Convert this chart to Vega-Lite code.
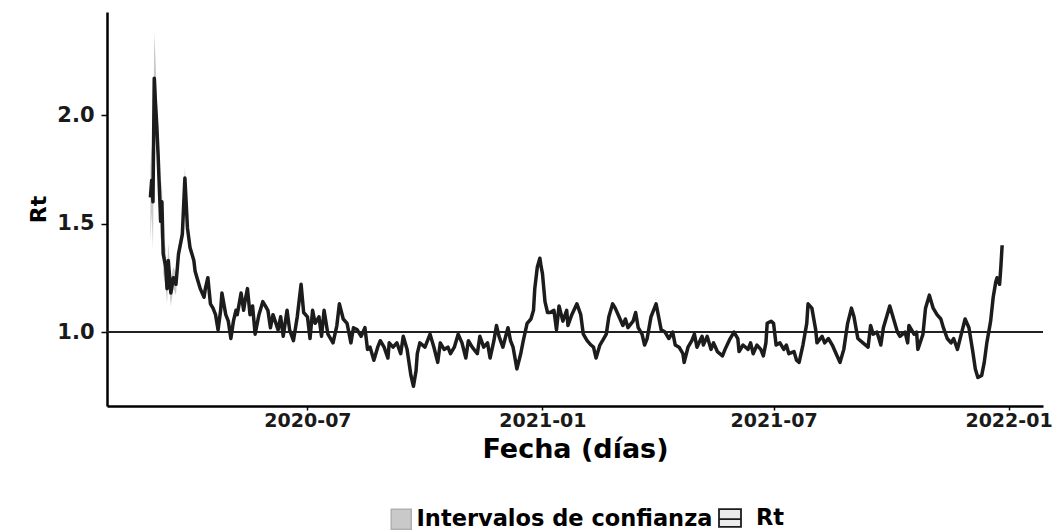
{
  "$schema": "https://vega.github.io/schema/vega-lite/v6.json",
  "width": 936,
  "height": 394,
  "autosize": {"type": "none"},
  "padding": {"left": 107, "top": 12, "right": 20, "bottom": 126},
  "background": "white",
  "config": {
    "view": {"stroke": null},
    "font": "DejaVu Sans",
    "axis": {
      "domainColor": "black", "domainWidth": 2.5, "tickColor": "black", "tickWidth": 1.5, "tickSize": 6,
      "labelColor": "#1a1a1a", "labelFont": "DejaVu Sans", "labelFontSize": 19, "labelFontWeight": "bold",
      "titleFont": "DejaVu Sans", "titleFontWeight": "bold", "titleColor": "black", "grid": false
    },
    "legend": {
      "orient": "none", "direction": "horizontal", "title": null,
      "symbolSize": 400, "symbolStrokeWidth": 1.5,
      "labelFont": "DejaVu Sans", "labelFontSize": 22.5, "labelFontWeight": "bold", "labelColor": "black",
      "labelOffset": 4, "labelLimit": 0
    }
  },
  "data": {"values": [
    {"fecha": "2020-02-29", "rt": 1.62, "lo": 1.42, "hi": 1.76},
    {"fecha": "2020-03-01", "rt": 1.70, "lo": 1.55, "hi": 1.86},
    {"fecha": "2020-03-02", "rt": 1.60, "lo": 1.38, "hi": 1.74},
    {"fecha": "2020-03-03", "rt": 2.17, "lo": 1.98, "hi": 2.38},
    {"fecha": "2020-03-04", "rt": 2.05, "lo": 1.90, "hi": 2.26},
    {"fecha": "2020-03-05", "rt": 1.95, "lo": 1.82, "hi": 2.10},
    {"fecha": "2020-03-06", "rt": 1.82, "lo": 1.72, "hi": 1.95},
    {"fecha": "2020-03-08", "rt": 1.51, "lo": 1.42, "hi": 1.62},
    {"fecha": "2020-03-09", "rt": 1.60, "lo": 1.50, "hi": 1.70},
    {"fecha": "2020-03-10", "rt": 1.36, "lo": 1.27, "hi": 1.45},
    {"fecha": "2020-03-12", "rt": 1.30, "lo": 1.21, "hi": 1.38},
    {"fecha": "2020-03-13", "rt": 1.20, "lo": 1.13, "hi": 1.27},
    {"fecha": "2020-03-14", "rt": 1.33, "lo": 1.25, "hi": 1.41},
    {"fecha": "2020-03-16", "rt": 1.18, "lo": 1.12, "hi": 1.24},
    {"fecha": "2020-03-18", "rt": 1.25, "lo": 1.20, "hi": 1.30},
    {"fecha": "2020-03-20", "rt": 1.22, "lo": 1.17, "hi": 1.27},
    {"fecha": "2020-03-22", "rt": 1.36, "lo": 1.32, "hi": 1.40},
    {"fecha": "2020-03-25", "rt": 1.45, "lo": 1.41, "hi": 1.49},
    {"fecha": "2020-03-27", "rt": 1.71, "lo": 1.66, "hi": 1.76},
    {"fecha": "2020-03-29", "rt": 1.48, "lo": 1.45, "hi": 1.52},
    {"fecha": "2020-03-31", "rt": 1.39, "lo": 1.36, "hi": 1.42},
    {"fecha": "2020-04-03", "rt": 1.33},
    {"fecha": "2020-04-04", "rt": 1.28},
    {"fecha": "2020-04-06", "rt": 1.24},
    {"fecha": "2020-04-08", "rt": 1.20},
    {"fecha": "2020-04-11", "rt": 1.16},
    {"fecha": "2020-04-12", "rt": 1.20},
    {"fecha": "2020-04-14", "rt": 1.25},
    {"fecha": "2020-04-16", "rt": 1.13},
    {"fecha": "2020-04-18", "rt": 1.11},
    {"fecha": "2020-04-20", "rt": 1.08},
    {"fecha": "2020-04-22", "rt": 1.01},
    {"fecha": "2020-04-24", "rt": 1.10},
    {"fecha": "2020-04-25", "rt": 1.18},
    {"fecha": "2020-04-28", "rt": 1.08},
    {"fecha": "2020-04-30", "rt": 1.05},
    {"fecha": "2020-05-02", "rt": 0.97},
    {"fecha": "2020-05-04", "rt": 1.05},
    {"fecha": "2020-05-06", "rt": 1.10},
    {"fecha": "2020-05-07", "rt": 1.08},
    {"fecha": "2020-05-10", "rt": 1.18},
    {"fecha": "2020-05-12", "rt": 1.10},
    {"fecha": "2020-05-13", "rt": 1.14},
    {"fecha": "2020-05-15", "rt": 1.20},
    {"fecha": "2020-05-17", "rt": 1.08},
    {"fecha": "2020-05-19", "rt": 1.12},
    {"fecha": "2020-05-21", "rt": 0.99},
    {"fecha": "2020-05-24", "rt": 1.08},
    {"fecha": "2020-05-27", "rt": 1.14},
    {"fecha": "2020-05-29", "rt": 1.12},
    {"fecha": "2020-05-31", "rt": 1.10},
    {"fecha": "2020-06-02", "rt": 1.02},
    {"fecha": "2020-06-04", "rt": 1.08},
    {"fecha": "2020-06-08", "rt": 1.01},
    {"fecha": "2020-06-10", "rt": 1.07},
    {"fecha": "2020-06-12", "rt": 0.98},
    {"fecha": "2020-06-15", "rt": 1.10},
    {"fecha": "2020-06-17", "rt": 1.01},
    {"fecha": "2020-06-20", "rt": 0.96},
    {"fecha": "2020-06-23", "rt": 1.07},
    {"fecha": "2020-06-26", "rt": 1.22},
    {"fecha": "2020-06-28", "rt": 1.09},
    {"fecha": "2020-07-01", "rt": 1.07},
    {"fecha": "2020-07-03", "rt": 0.97},
    {"fecha": "2020-07-05", "rt": 1.10},
    {"fecha": "2020-07-07", "rt": 1.04},
    {"fecha": "2020-07-10", "rt": 1.07},
    {"fecha": "2020-07-12", "rt": 0.98},
    {"fecha": "2020-07-14", "rt": 1.10},
    {"fecha": "2020-07-17", "rt": 0.99},
    {"fecha": "2020-07-21", "rt": 0.95},
    {"fecha": "2020-07-24", "rt": 1.03},
    {"fecha": "2020-07-26", "rt": 1.13},
    {"fecha": "2020-07-29", "rt": 1.06},
    {"fecha": "2020-08-01", "rt": 1.04},
    {"fecha": "2020-08-04", "rt": 0.95},
    {"fecha": "2020-08-06", "rt": 1.02},
    {"fecha": "2020-08-09", "rt": 1.01},
    {"fecha": "2020-08-12", "rt": 0.98},
    {"fecha": "2020-08-15", "rt": 1.02},
    {"fecha": "2020-08-17", "rt": 0.92},
    {"fecha": "2020-08-19", "rt": 0.93},
    {"fecha": "2020-08-22", "rt": 0.87},
    {"fecha": "2020-08-25", "rt": 0.93},
    {"fecha": "2020-08-27", "rt": 0.96},
    {"fecha": "2020-08-30", "rt": 0.93},
    {"fecha": "2020-09-02", "rt": 0.88},
    {"fecha": "2020-09-03", "rt": 0.95},
    {"fecha": "2020-09-06", "rt": 0.93},
    {"fecha": "2020-09-09", "rt": 0.95},
    {"fecha": "2020-09-12", "rt": 0.90},
    {"fecha": "2020-09-14", "rt": 0.98},
    {"fecha": "2020-09-17", "rt": 0.92},
    {"fecha": "2020-09-20", "rt": 0.80},
    {"fecha": "2020-09-22", "rt": 0.75},
    {"fecha": "2020-09-24", "rt": 0.82},
    {"fecha": "2020-09-25", "rt": 0.90},
    {"fecha": "2020-09-27", "rt": 0.95},
    {"fecha": "2020-10-01", "rt": 0.93},
    {"fecha": "2020-10-05", "rt": 0.99},
    {"fecha": "2020-10-08", "rt": 0.93},
    {"fecha": "2020-10-11", "rt": 0.86},
    {"fecha": "2020-10-13", "rt": 0.95},
    {"fecha": "2020-10-16", "rt": 0.92},
    {"fecha": "2020-10-19", "rt": 0.93},
    {"fecha": "2020-10-21", "rt": 0.90},
    {"fecha": "2020-10-24", "rt": 0.93},
    {"fecha": "2020-10-27", "rt": 0.99},
    {"fecha": "2020-10-30", "rt": 0.95},
    {"fecha": "2020-11-02", "rt": 0.88},
    {"fecha": "2020-11-04", "rt": 0.96},
    {"fecha": "2020-11-07", "rt": 0.93},
    {"fecha": "2020-11-11", "rt": 0.90},
    {"fecha": "2020-11-13", "rt": 0.98},
    {"fecha": "2020-11-16", "rt": 0.93},
    {"fecha": "2020-11-19", "rt": 0.95},
    {"fecha": "2020-11-21", "rt": 0.88},
    {"fecha": "2020-11-24", "rt": 0.96},
    {"fecha": "2020-11-26", "rt": 1.03},
    {"fecha": "2020-11-28", "rt": 0.98},
    {"fecha": "2020-12-01", "rt": 0.93},
    {"fecha": "2020-12-05", "rt": 1.02},
    {"fecha": "2020-12-07", "rt": 0.96},
    {"fecha": "2020-12-09", "rt": 0.93},
    {"fecha": "2020-12-12", "rt": 0.83},
    {"fecha": "2020-12-15", "rt": 0.90},
    {"fecha": "2020-12-17", "rt": 0.96},
    {"fecha": "2020-12-20", "rt": 1.04},
    {"fecha": "2020-12-23", "rt": 1.06},
    {"fecha": "2020-12-25", "rt": 1.10},
    {"fecha": "2020-12-26", "rt": 1.20},
    {"fecha": "2020-12-28", "rt": 1.30},
    {"fecha": "2020-12-30", "rt": 1.34},
    {"fecha": "2020-12-31", "rt": 1.30},
    {"fecha": "2021-01-01", "rt": 1.27},
    {"fecha": "2021-01-03", "rt": 1.14},
    {"fecha": "2021-01-05", "rt": 1.09},
    {"fecha": "2021-01-07", "rt": 1.09},
    {"fecha": "2021-01-10", "rt": 1.10},
    {"fecha": "2021-01-12", "rt": 1.01},
    {"fecha": "2021-01-14", "rt": 1.12},
    {"fecha": "2021-01-17", "rt": 1.05},
    {"fecha": "2021-01-20", "rt": 1.10},
    {"fecha": "2021-01-21", "rt": 1.03},
    {"fecha": "2021-01-24", "rt": 1.08},
    {"fecha": "2021-01-28", "rt": 1.13},
    {"fecha": "2021-01-31", "rt": 1.08},
    {"fecha": "2021-02-02", "rt": 0.99},
    {"fecha": "2021-02-05", "rt": 0.96},
    {"fecha": "2021-02-08", "rt": 0.94},
    {"fecha": "2021-02-10", "rt": 0.93},
    {"fecha": "2021-02-12", "rt": 0.88},
    {"fecha": "2021-02-15", "rt": 0.94},
    {"fecha": "2021-02-18", "rt": 0.97},
    {"fecha": "2021-02-20", "rt": 0.99},
    {"fecha": "2021-02-22", "rt": 1.07},
    {"fecha": "2021-02-25", "rt": 1.13},
    {"fecha": "2021-02-27", "rt": 1.11},
    {"fecha": "2021-03-02", "rt": 1.07},
    {"fecha": "2021-03-05", "rt": 1.03},
    {"fecha": "2021-03-07", "rt": 1.06},
    {"fecha": "2021-03-09", "rt": 1.02},
    {"fecha": "2021-03-13", "rt": 1.05},
    {"fecha": "2021-03-15", "rt": 1.09},
    {"fecha": "2021-03-17", "rt": 1.02},
    {"fecha": "2021-03-20", "rt": 0.99},
    {"fecha": "2021-03-22", "rt": 0.94},
    {"fecha": "2021-03-24", "rt": 0.97},
    {"fecha": "2021-03-27", "rt": 1.07},
    {"fecha": "2021-03-31", "rt": 1.13},
    {"fecha": "2021-04-02", "rt": 1.07},
    {"fecha": "2021-04-04", "rt": 1.01},
    {"fecha": "2021-04-07", "rt": 1.00},
    {"fecha": "2021-04-10", "rt": 0.97},
    {"fecha": "2021-04-13", "rt": 1.00},
    {"fecha": "2021-04-15", "rt": 0.94},
    {"fecha": "2021-04-18", "rt": 0.93},
    {"fecha": "2021-04-21", "rt": 0.90},
    {"fecha": "2021-04-22", "rt": 0.86},
    {"fecha": "2021-04-25", "rt": 0.93},
    {"fecha": "2021-04-28", "rt": 0.96},
    {"fecha": "2021-04-30", "rt": 0.99},
    {"fecha": "2021-05-02", "rt": 0.93},
    {"fecha": "2021-05-06", "rt": 0.98},
    {"fecha": "2021-05-07", "rt": 0.94},
    {"fecha": "2021-05-10", "rt": 0.98},
    {"fecha": "2021-05-13", "rt": 0.92},
    {"fecha": "2021-05-15", "rt": 0.95},
    {"fecha": "2021-05-18", "rt": 0.91},
    {"fecha": "2021-05-22", "rt": 0.89},
    {"fecha": "2021-05-24", "rt": 0.92},
    {"fecha": "2021-05-28", "rt": 0.97},
    {"fecha": "2021-05-31", "rt": 1.00},
    {"fecha": "2021-06-03", "rt": 0.97},
    {"fecha": "2021-06-04", "rt": 0.91},
    {"fecha": "2021-06-07", "rt": 0.94},
    {"fecha": "2021-06-11", "rt": 0.92},
    {"fecha": "2021-06-13", "rt": 0.95},
    {"fecha": "2021-06-15", "rt": 0.90},
    {"fecha": "2021-06-18", "rt": 0.94},
    {"fecha": "2021-06-21", "rt": 0.92},
    {"fecha": "2021-06-23", "rt": 0.89},
    {"fecha": "2021-06-25", "rt": 0.95},
    {"fecha": "2021-06-26", "rt": 1.04},
    {"fecha": "2021-06-29", "rt": 1.05},
    {"fecha": "2021-07-01", "rt": 1.04},
    {"fecha": "2021-07-03", "rt": 0.94},
    {"fecha": "2021-07-06", "rt": 0.95},
    {"fecha": "2021-07-09", "rt": 0.92},
    {"fecha": "2021-07-11", "rt": 0.94},
    {"fecha": "2021-07-13", "rt": 0.90},
    {"fecha": "2021-07-17", "rt": 0.91},
    {"fecha": "2021-07-19", "rt": 0.87},
    {"fecha": "2021-07-21", "rt": 0.86},
    {"fecha": "2021-07-24", "rt": 0.94},
    {"fecha": "2021-07-27", "rt": 1.04},
    {"fecha": "2021-07-28", "rt": 1.13},
    {"fecha": "2021-07-31", "rt": 1.11},
    {"fecha": "2021-08-03", "rt": 1.01},
    {"fecha": "2021-08-04", "rt": 0.95},
    {"fecha": "2021-08-08", "rt": 0.98},
    {"fecha": "2021-08-10", "rt": 0.95},
    {"fecha": "2021-08-13", "rt": 0.97},
    {"fecha": "2021-08-16", "rt": 0.94},
    {"fecha": "2021-08-19", "rt": 0.90},
    {"fecha": "2021-08-22", "rt": 0.86},
    {"fecha": "2021-08-25", "rt": 0.92},
    {"fecha": "2021-08-28", "rt": 1.04},
    {"fecha": "2021-08-31", "rt": 1.11},
    {"fecha": "2021-09-02", "rt": 1.07},
    {"fecha": "2021-09-05", "rt": 0.97},
    {"fecha": "2021-09-09", "rt": 0.95},
    {"fecha": "2021-09-13", "rt": 0.93},
    {"fecha": "2021-09-15", "rt": 1.03},
    {"fecha": "2021-09-17", "rt": 0.99},
    {"fecha": "2021-09-20", "rt": 1.00},
    {"fecha": "2021-09-23", "rt": 0.94},
    {"fecha": "2021-09-25", "rt": 1.02},
    {"fecha": "2021-09-28", "rt": 1.08},
    {"fecha": "2021-09-30", "rt": 1.12},
    {"fecha": "2021-10-03", "rt": 1.06},
    {"fecha": "2021-10-06", "rt": 1.00},
    {"fecha": "2021-10-08", "rt": 0.98},
    {"fecha": "2021-10-12", "rt": 1.00},
    {"fecha": "2021-10-14", "rt": 0.95},
    {"fecha": "2021-10-15", "rt": 1.03},
    {"fecha": "2021-10-19", "rt": 0.99},
    {"fecha": "2021-10-21", "rt": 1.00},
    {"fecha": "2021-10-22", "rt": 0.92},
    {"fecha": "2021-10-26", "rt": 0.99},
    {"fecha": "2021-10-28", "rt": 1.11},
    {"fecha": "2021-10-31", "rt": 1.17},
    {"fecha": "2021-11-03", "rt": 1.11},
    {"fecha": "2021-11-06", "rt": 1.08},
    {"fecha": "2021-11-09", "rt": 1.06},
    {"fecha": "2021-11-11", "rt": 1.02},
    {"fecha": "2021-11-14", "rt": 0.97},
    {"fecha": "2021-11-17", "rt": 0.95},
    {"fecha": "2021-11-19", "rt": 0.97},
    {"fecha": "2021-11-22", "rt": 0.92},
    {"fecha": "2021-11-25", "rt": 0.99},
    {"fecha": "2021-11-28", "rt": 1.06},
    {"fecha": "2021-12-01", "rt": 1.02},
    {"fecha": "2021-12-04", "rt": 0.91},
    {"fecha": "2021-12-06", "rt": 0.83},
    {"fecha": "2021-12-08", "rt": 0.79},
    {"fecha": "2021-12-11", "rt": 0.80},
    {"fecha": "2021-12-13", "rt": 0.86},
    {"fecha": "2021-12-15", "rt": 0.95},
    {"fecha": "2021-12-18", "rt": 1.05},
    {"fecha": "2021-12-20", "rt": 1.16},
    {"fecha": "2021-12-22", "rt": 1.23},
    {"fecha": "2021-12-23", "rt": 1.25},
    {"fecha": "2021-12-25", "rt": 1.22},
    {"fecha": "2021-12-26", "rt": 1.30},
    {"fecha": "2021-12-27", "rt": 1.40}
  ]},
  "layer": [
    {
      "mark": {"type": "area", "opacity": 1},
      "encoding": {
        "x": {
          "field": "fecha", "type": "temporal", "title": "Fecha (días)",
          "scale": {"domain": [{"year": 2020, "month": 1, "date": 26}, {"year": 2022, "month": 1, "date": 28}]},
          "axis": {
            "values": [{"year": 2020, "month": 7, "date": 1}, {"year": 2021, "month": 1, "date": 1}, {"year": 2021, "month": 7, "date": 1}, {"year": 2022, "month": 1, "date": 1}],
            "format": "%Y-%m", "tickSize": 4, "labelPadding": 1, "titleFontSize": 27, "titlePadding": 6, "labelFlush": false
          }
        },
        "y": {"field": "lo", "type": "quantitative", "title": "Rt",
          "scale": {"domain": [0.659, 2.475], "nice": false, "zero": false},
          "axis": {"values": [1.0, 1.5, 2.0], "format": ".1f", "labelFontSize": 21, "titleFontSize": 22, "titlePadding": 6, "labelPadding": 7}},
        "y2": {"field": "hi"},
        "fill": {
          "datum": "Intervalos de confianza",
          "scale": {"domain": ["Intervalos de confianza"], "range": ["#c9c9c9"]},
          "legend": {
            "legendX": 283, "legendY": 496, "symbolType": "square",
            "symbolStrokeColor": "#b0b0b0", "symbolStrokeWidth": 1.5, "symbolOpacity": 1
          }
        }
      }
    },
    {
      "mark": {"type": "rule", "color": "#222222", "strokeWidth": 1.6},
      "encoding": {"y": {"datum": 1}}
    },
    {
      "mark": {"type": "line", "strokeWidth": 3.5, "strokeJoin": "round"},
      "encoding": {
        "x": {"field": "fecha", "type": "temporal"},
        "y": {"field": "rt", "type": "quantitative"},
        "stroke": {
          "datum": "Rt",
          "scale": {"domain": ["Rt"], "range": ["#1c1c1c"]},
          "legend": {
            "legendX": 611, "legendY": 494,
            "symbolType": "M-1,-0.8H1V0.8H-1ZM-1,0.1H1",
            "symbolFillColor": "#ececec", "symbolStrokeWidth": 1.8, "symbolSize": 484, "labelOffset": 14
          }
        }
      }
    }
  ]
}
